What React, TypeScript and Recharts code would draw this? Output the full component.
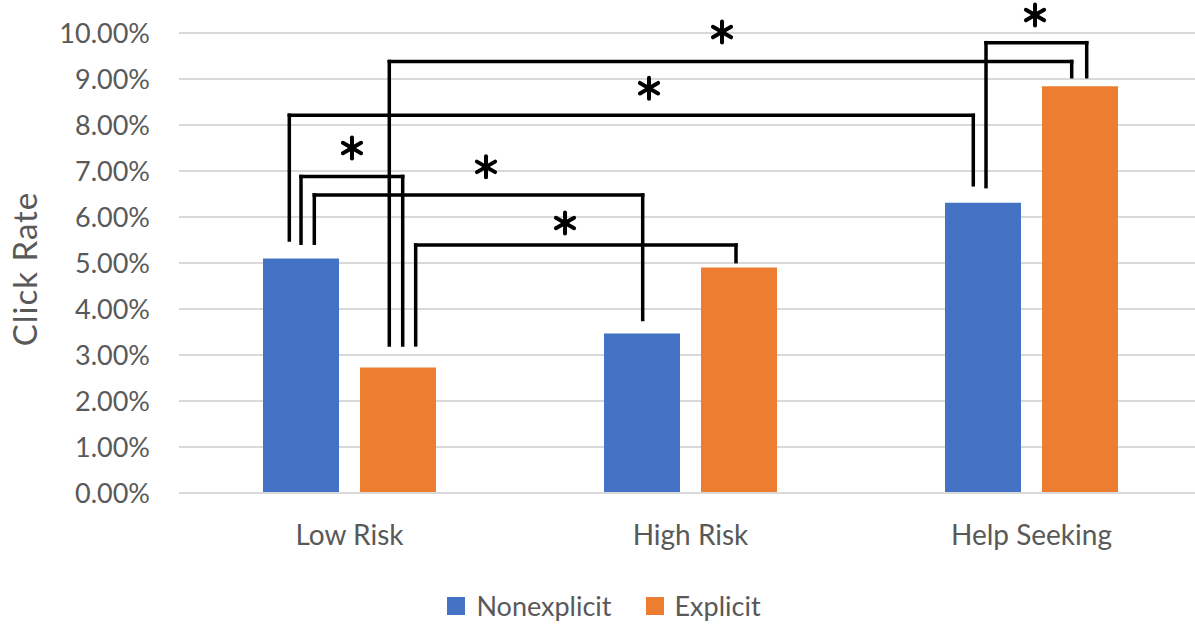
import React from 'react';
import { BarChart, Bar, XAxis, YAxis, CartesianGrid, ReferenceLine, ReferenceDot, Legend } from 'recharts';

const categories = ['Low Risk', 'High Risk', 'Help Seeking'];
const categoryPos = [0.5, 1.5, 2.5];
const nonexplicit = [5.10, 3.47, 6.31];
const explicit = [2.73, 4.90, 8.84];
const yTicks = [0, 1, 2, 3, 4, 5, 6, 7, 8, 9, 10];
const seriesNames = ['Nonexplicit', 'Explicit'];
const seriesColors = ['#4472C4', '#ED7D31'];

// significance brackets, x in category units (0..3 across the plot), y in %
const bracketLeftX = [0.3235, 0.6167, 0.3578, 0.3968, 0.6941, 2.3666];
const bracketRightX = [2.3293, 2.6179, 0.6560, 1.3598, 1.6334, 2.6619];
const bracketTopY = [8.21, 9.38, 6.88, 6.48, 5.39, 9.79];
const bracketLeftBottomY = [5.50, 3.22, 5.43, 5.43, 3.22, 6.66];
const bracketRightBottomY = [6.70, 9.05, 3.22, 3.77, 5.03, 9.05];
const starX = [1.3783, 1.5924, 0.5073, 0.9003, 1.1320, 2.5103];
const starY = [8.80, 10.02, 7.50, 7.09, 5.87, 10.39];

const data = categories.map((name, i) => ({
  name,
  pos: categoryPos[i],
  [seriesNames[0]]: nonexplicit[i],
  [seriesNames[1]]: explicit[i],
}));

const FONT = 'Lato, sans-serif';
const TEXT = '#595959';

const Asterisk = (props: any) => {
  const { cx, cy } = props;
  if (cx == null || cy == null) return null;
  const r = 10.5;
  const angles = [90, 30, -30];
  return (
    <g>
      {angles.map((a) => {
        const rad = (a * Math.PI) / 180;
        const dx = Math.cos(rad) * r;
        const dy = Math.sin(rad) * r;
        return (
          <line key={a} x1={cx - dx} y1={cy - dy} x2={cx + dx} y2={cy + dy}
            stroke="#000" strokeWidth={4} strokeLinecap="round" />
        );
      })}
    </g>
  );
};

const TitleLabel = (props: any) => {
  const vb = props.viewBox || { x: 0, y: 33, width: 179, height: 460 };
  const x = vb.x + 24;
  const y = vb.y + vb.height / 2 + 6;
  return (
    <text x={x} y={y} transform={`rotate(-90, ${x}, ${y})`} textAnchor="middle"
      dominantBaseline="central" fill={TEXT} fontSize={33} letterSpacing={1} fontFamily={FONT}>
      Click Rate
    </text>
  );
};

const LegendContent = () => (
  <div style={{ display: 'flex', justifyContent: 'center', alignItems: 'center', height: 30,
    fontFamily: FONT, fontSize: 27, color: TEXT, lineHeight: '30px' }}>
    {seriesNames.map((n, i) => (
      <div key={n} style={{ display: 'flex', alignItems: 'center', marginLeft: i === 0 ? 0 : 34 }}>
        <span style={{ display: 'inline-block', width: 18, height: 18, background: seriesColors[i], marginRight: 11 }} />
        <span>{n}</span>
      </div>
    ))}
  </div>
);

export default function App() {
  const lines: any[] = [];
  bracketLeftX.forEach((lx, i) => {
    const rx = bracketRightX[i];
    const top = bracketTopY[i];
    const segs = [
      [{ x: lx, y: bracketLeftBottomY[i] }, { x: lx, y: top }],
      [{ x: lx, y: top }, { x: rx, y: top }],
      [{ x: rx, y: top }, { x: rx, y: bracketRightBottomY[i] }],
    ];
    segs.forEach((s, j) => {
      lines.push(
        <ReferenceLine key={`b${i}-${j}`} xAxisId="num" segment={s as any} stroke="#000"
          strokeWidth={3.5} strokeLinecap="square" ifOverflow="visible" />
      );
    });
  });

  return (
    <div style={{ position: 'absolute', left: 0, top: 0, width: 1195, height: 624, overflow: 'hidden', background: '#fff' }}>
      <BarChart width={1202} height={624} data={data} margin={{ top: 33, right: 0, bottom: 0, left: 0 }}
        barGap={21} barSize={76}>
        <CartesianGrid xAxisId="cat" vertical={false} stroke="#d9d9d9" strokeWidth={2} />
        <XAxis xAxisId="cat" dataKey="name" height={131} tickLine={false} tickSize={0} tickMargin={32}
          axisLine={{ stroke: '#d9d9d9', strokeWidth: 2 }} interval={0}
          tick={{ fill: TEXT, fontSize: 28, fontFamily: FONT }} />
        <XAxis xAxisId="num" dataKey="pos" type="number" scale="linear" domain={[0, 3]} hide allowDataOverflow />
        <YAxis domain={[0, 10]} ticks={yTicks} allowDataOverflow width={179} axisLine={false}
          tickLine={false} tickSize={0} tickMargin={29}
          tickFormatter={(v: number) => `${v.toFixed(2)}%`}
          tick={{ fill: TEXT, fontSize: 27, fontFamily: FONT }}
          label={TitleLabel} />
        <Bar xAxisId="cat" dataKey={seriesNames[0]} fill={seriesColors[0]} isAnimationActive={false} />
        <Bar xAxisId="cat" dataKey={seriesNames[1]} fill={seriesColors[1]} isAnimationActive={false} />
        {lines}
        {starX.map((sx, i) => (
          <ReferenceDot key={`s${i}`} xAxisId="num" x={sx} y={starY[i]} r={10} ifOverflow="visible"
            shape={Asterisk} />
        ))}
        <Legend layout="horizontal" verticalAlign="middle" align="center"
          wrapperStyle={{ position: 'absolute', top: 591, left: 0, width: 1208, height: 30 }}
          content={LegendContent} />
      </BarChart>
    </div>
  );
}
